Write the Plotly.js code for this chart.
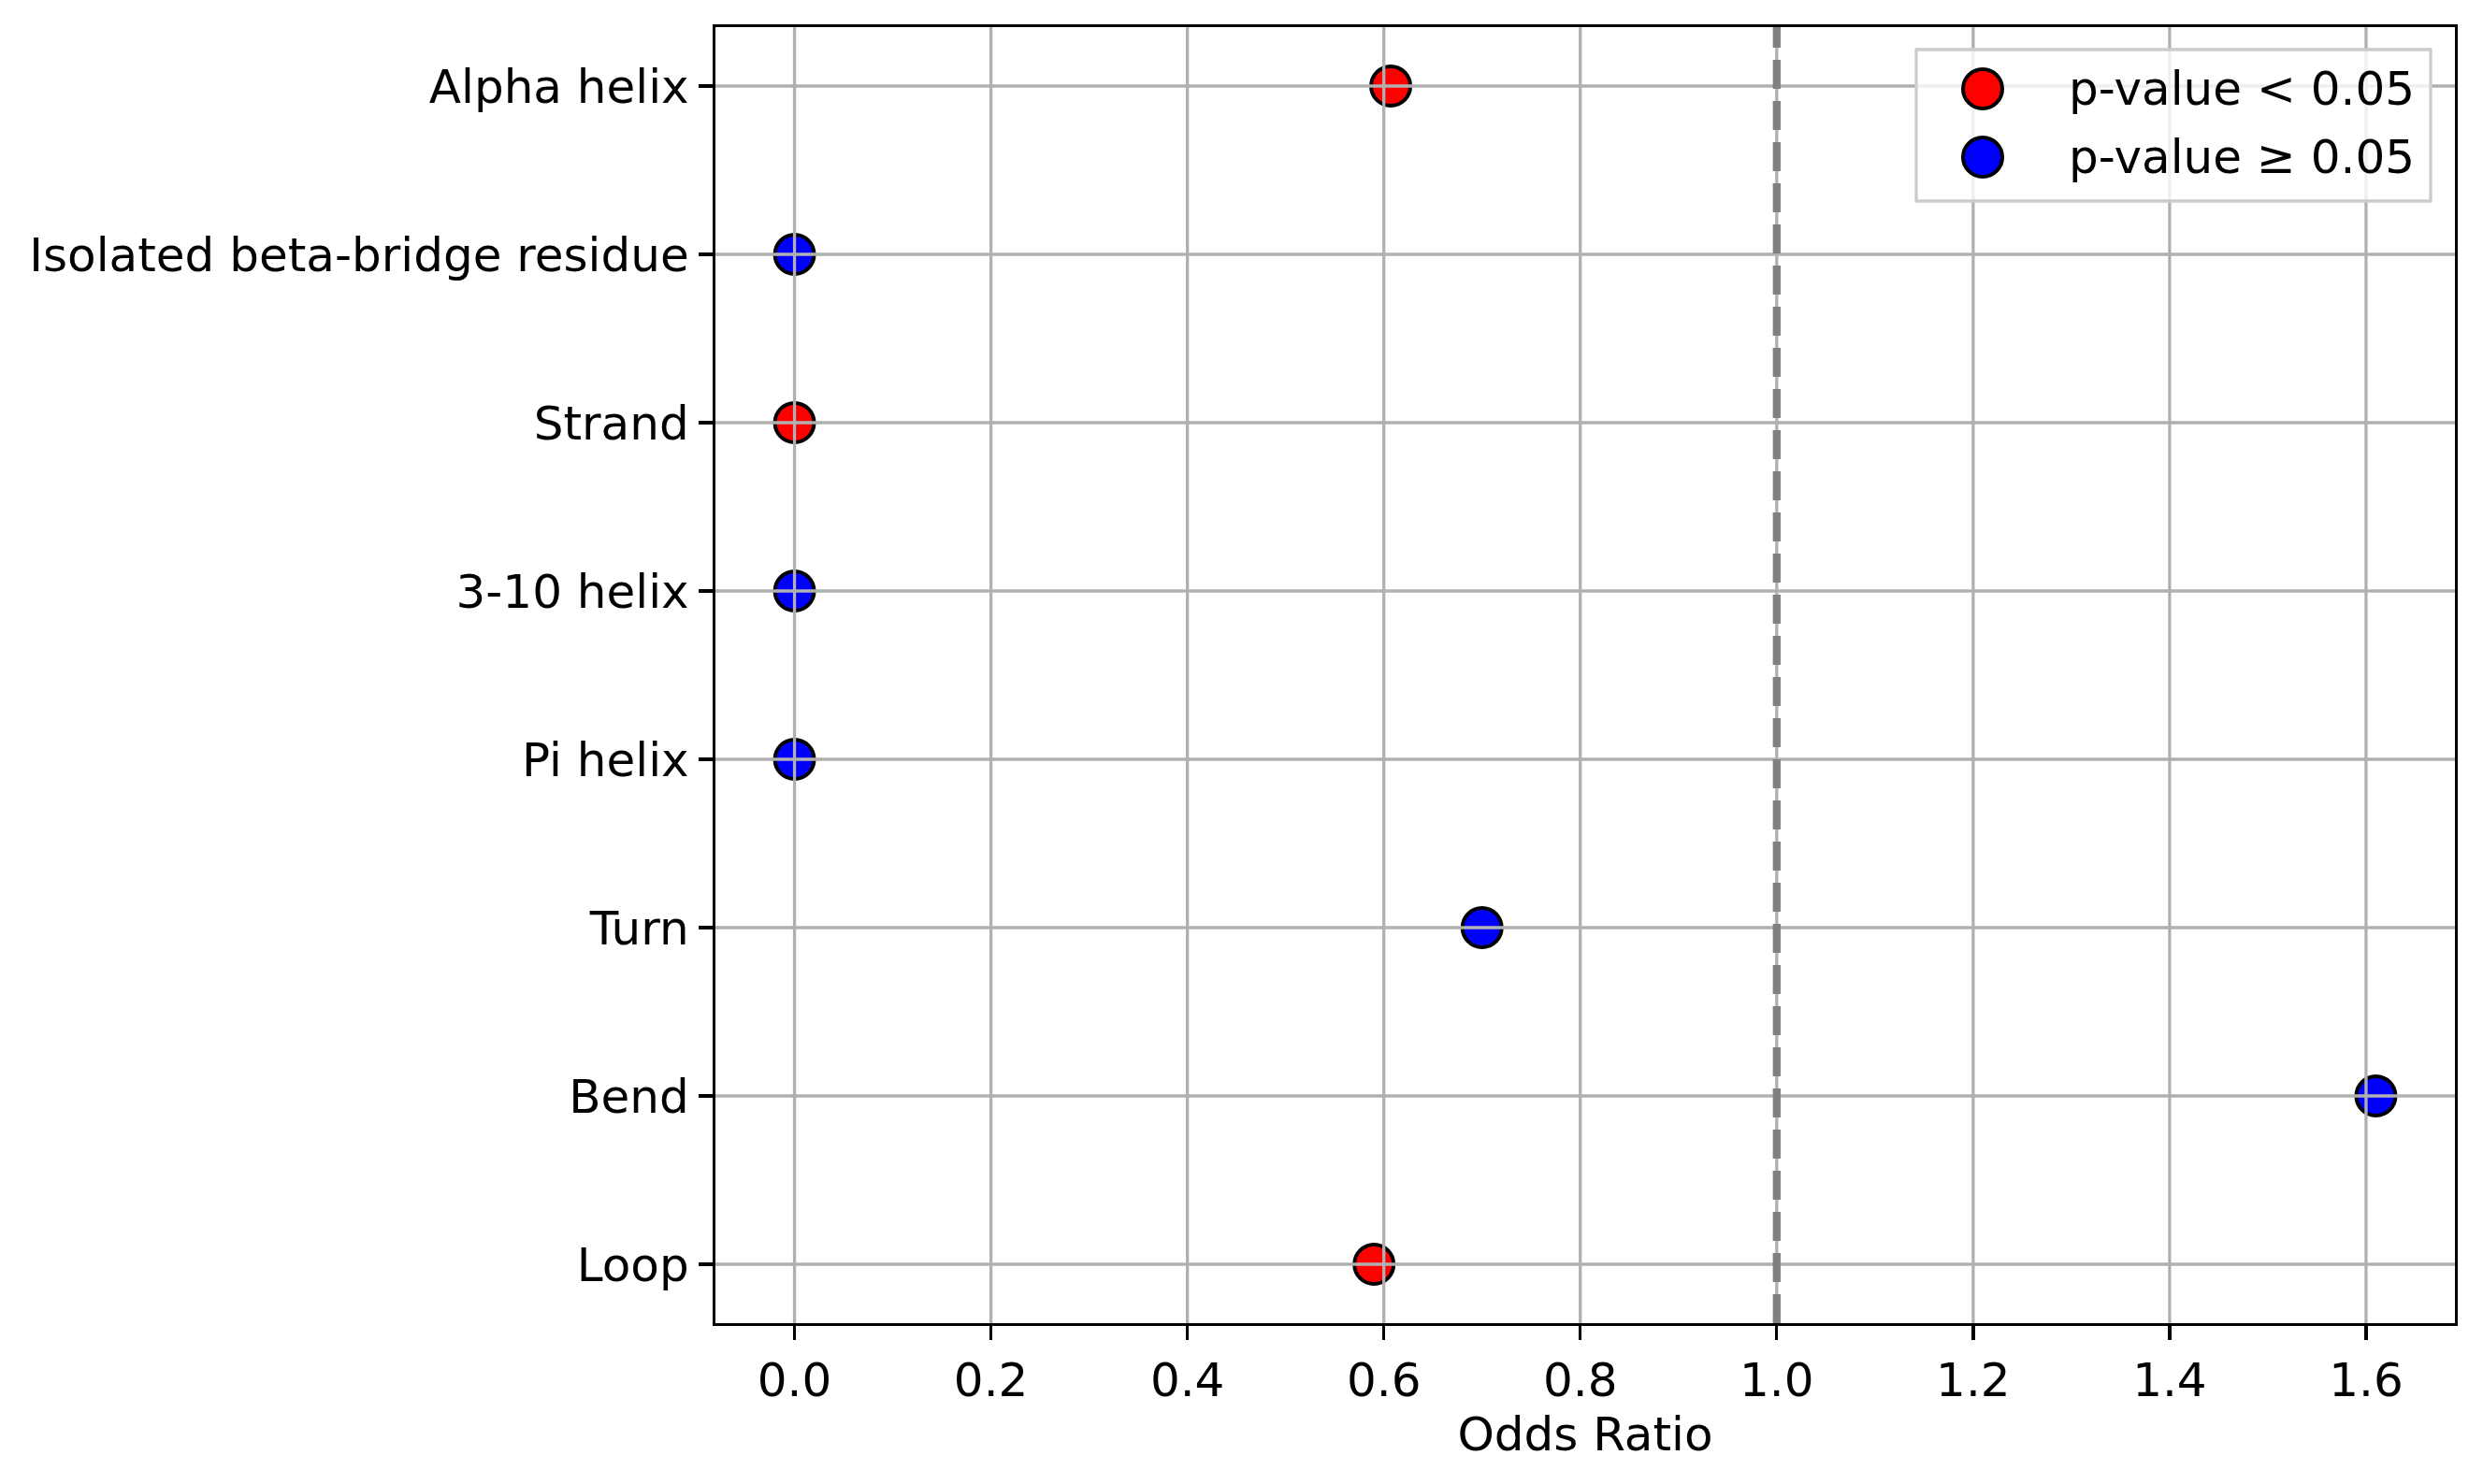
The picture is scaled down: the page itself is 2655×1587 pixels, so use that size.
<!DOCTYPE html>
<html>
<head>
<meta charset="utf-8">
<script src="https://cdn.plot.ly/plotly-3.0.1.min.js"></script>
<style>
  html, body { margin: 0; padding: 0; background: #fff; }
  #graph { width: 2655px; height: 1587px; }
</style>
</head>
<body>
<div id="graph"></div>
<script>
// secondary structure categories, top to bottom
var categories = ['Alpha helix', 'Isolated beta-bridge residue', 'Strand', '3-10 helix',
                  'Pi helix', 'Turn', 'Bend', 'Loop'];
var oddsRatios = [0.607, 0, 0, 0, 0, 0.70, 1.61, 0.59];
var significant = [true, false, true, false, false, false, false, true];
var xTicks = [0.0, 0.2, 0.4, 0.6, 0.8, 1.0, 1.2, 1.4, 1.6];
var legendLabels = ['p-value < 0.05', 'p-value \u2265 0.05'];
var legendColors = ['red', 'blue'];

var font = 'DejaVu Sans, Liberation Sans, sans-serif';

function pick(flag) {
  var xs = [], ys = [];
  for (var i = 0; i < categories.length; i++) {
    if (significant[i] === flag) { xs.push(oddsRatios[i]); ys.push(categories[i]); }
  }
  return {x: xs, y: ys};
}

var sig = pick(true), nonsig = pick(false);

var trace1 = {
  type: 'scatter', mode: 'markers',
  x: sig.x, y: sig.y, name: legendLabels[0],
  marker: {color: legendColors[0], size: 42, line: {color: 'black', width: 4}},
  showlegend: false
};
var trace2 = {
  type: 'scatter', mode: 'markers',
  x: nonsig.x, y: nonsig.y, name: legendLabels[1],
  marker: {color: legendColors[1], size: 42, line: {color: 'black', width: 4}},
  showlegend: false
};

// grid lines drawn above the markers, like matplotlib does
var shapes = [];
xTicks.forEach(function(t) {
  shapes.push({type: 'line', xref: 'x', yref: 'paper', x0: t, x1: t, y0: 0, y1: 1,
               line: {color: '#b0b0b0', width: 3.3}, layer: 'above'});
});
categories.forEach(function(c) {
  shapes.push({type: 'line', xref: 'paper', yref: 'y', x0: 0, x1: 1, y0: c, y1: c,
               line: {color: '#b0b0b0', width: 3.3}, layer: 'above'});
});
// reference line at OR = 1
shapes.push({type: 'line', xref: 'x', yref: 'paper', x0: 1, x1: 1, y0: 0, y1: 1,
             line: {color: 'gray', width: 8.3, dash: '31px,13px'}, layer: 'above'});

// legend box (built by hand so the markers keep their size)
var mL = 765, mR = 30, mT = 29, mB = 172;
var plotW = 2655 - mL - mR, plotH = 1587 - mT - mB;
function px(v) { return (v - mL) / plotW; }
function py(v) { return 1 - (v - mT) / plotH; }
shapes.push({type: 'rect', xref: 'paper', yref: 'paper',
             x0: px(2049), x1: px(2599), y0: py(53), y1: py(215),
             fillcolor: 'rgba(255,255,255,0.8)', line: {color: '#cccccc', width: 3.3}, layer: 'above'});
var annotations = [];
legendLabels.forEach(function(lab, i) {
  var cy = 95 + i * 73;
  shapes.push({type: 'circle', xref: 'paper', yref: 'paper',
               x0: px(2120 - 21), x1: px(2120 + 21),
               y0: py(cy + 21), y1: py(cy - 21),
               fillcolor: legendColors[i], line: {color: 'black', width: 4}, layer: 'above'});
  annotations.push({xref: 'paper', yref: 'paper', x: px(2210), y: py(cy),
                    xanchor: 'left', yanchor: 'middle', showarrow: false, text: lab,
                    font: {family: font, size: 50, color: 'black'}});
});

var layout = {
  width: 2655,
  height: 1587,
  margin: {l: mL, r: mR, t: mT, b: mB, pad: 0},
  paper_bgcolor: 'white',
  plot_bgcolor: 'white',
  font: {family: font, size: 50, color: 'black'},
  showlegend: false,
  xaxis: {
    range: [-0.0805, 1.6905],
    tickvals: xTicks,
    ticktext: xTicks.map(function(t) { return t.toFixed(1); }),
    ticks: 'outside', ticklen: 15, tickwidth: 3.3, tickcolor: 'black',
    showgrid: false, zeroline: false,
    showline: true, linecolor: 'black', linewidth: 3.3, mirror: true,
    tickfont: {family: font, size: 50, color: 'black'},
    title: {text: 'Odds Ratio', font: {family: font, size: 50, color: 'black'}, standoff: 9},
    automargin: false
  },
  yaxis: {
    type: 'category',
    categoryorder: 'array',
    categoryarray: categories.slice().reverse(),
    range: [-0.35, 7.35],
    ticks: 'outside', ticklen: 15, tickwidth: 3.3, tickcolor: 'black',
    showgrid: false, zeroline: false,
    showline: true, linecolor: 'black', linewidth: 3.3, mirror: true,
    tickfont: {family: font, size: 50, color: 'black'},
    automargin: false
  },
  shapes: shapes,
  annotations: annotations
};

Plotly.newPlot('graph', [trace1, trace2], layout, {displayModeBar: false, staticPlot: true});
</script>
</body>
</html>
